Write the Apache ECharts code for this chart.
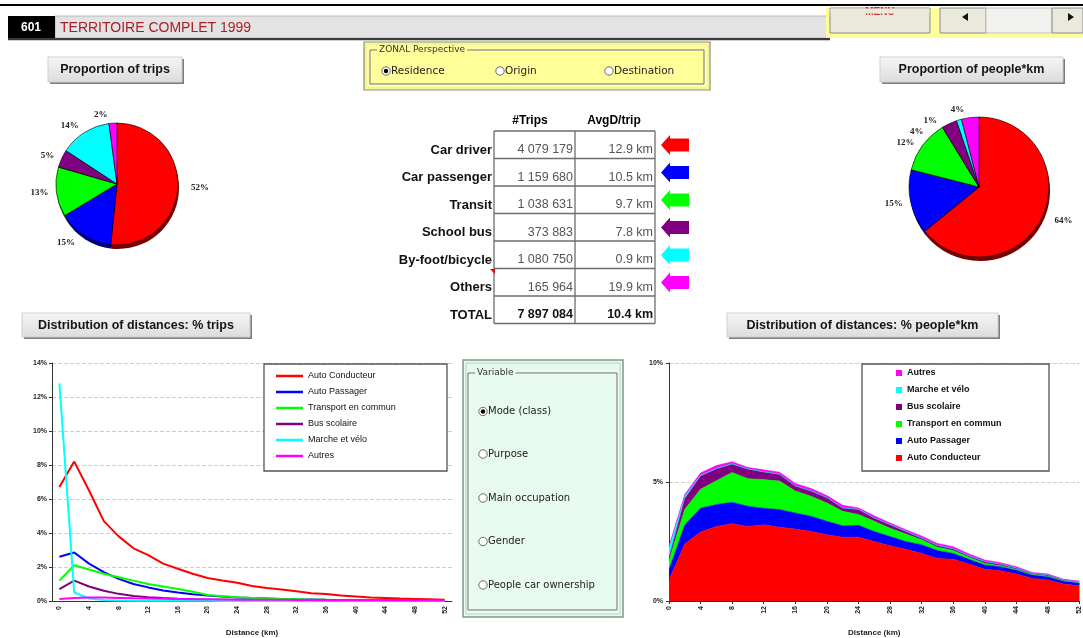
<!DOCTYPE html>
<html>
<head>
<meta charset="utf-8">
<script src="https://cdn.jsdelivr.net/npm/echarts@6/dist/echarts.min.js"></script>
<style>
  html, body { margin: 0; padding: 0; background: #fff; }
  #chart { width: 1083px; height: 638px; }
</style>
</head>
<body>
<div id="chart"></div>
<script>
// ---- data ----
const distanceKm = ['0','2','4','6','8','10','12','14','16','18','20','22','24','26','28','30','32','34','36','38','40','42','44','46','48','50','52'];

const modeNamesFr = ['Auto Conducteur', 'Auto Passager', 'Transport en commun', 'Bus scolaire', 'Marche et vélo', 'Autres'];
const modeNamesEn = ['Car driver', 'Car passenger', 'Transit', 'School bus', 'By-foot/bicycle', 'Others'];
const modeColors  = ['#ff0000', '#0000ff', '#00ff00', '#800080', '#00ffff', '#ff00ff'];
const modeShade   = ['#7a0000', '#00007a', '#007a00', '#3c003c', '#007a7a', '#7a007a'];

// trips and average distance per trip, by mode
const tripsByMode   = [4079179, 1159680, 1038631, 373883, 1080750, 165964];
const tripsTotal    = 7897084;
const avgKmByMode   = [12.9, 10.5, 9.7, 7.8, 0.9, 19.9];
const avgKmTotal    = 10.4;
// people*km by mode (millions)
const peopleKmByMode = [52.62, 12.18, 10.07, 2.92, 0.97, 3.30];

// % of trips by distance band
const tripsAutoConducteur = [6.7, 8.2, 6.5, 4.7, 3.8, 3.1, 2.7, 2.2, 1.9, 1.6, 1.35, 1.2, 1.07, 0.88, 0.76, 0.68, 0.57, 0.45, 0.41, 0.33, 0.27, 0.21, 0.18, 0.14, 0.12, 0.1, 0.08];
const tripsAutoPassager   = [2.6, 2.85, 2.2, 1.7, 1.3, 1.0, 0.8, 0.62, 0.5, 0.4, 0.32, 0.26, 0.21, 0.17, 0.15, 0.12, 0.1, 0.09, 0.07, 0.06, 0.05, 0.04, 0.04, 0.03, 0.03, 0.02, 0.02];
const tripsTransport      = [1.2, 2.1, 1.85, 1.6, 1.4, 1.2, 1.0, 0.85, 0.7, 0.55, 0.35, 0.28, 0.22, 0.18, 0.14, 0.12, 0.1, 0.08, 0.07, 0.05, 0.04, 0.03, 0.03, 0.02, 0.02, 0.01, 0.01];
const tripsBusScolaire    = [0.7, 1.2, 0.85, 0.6, 0.42, 0.3, 0.22, 0.17, 0.13, 0.1, 0.08, 0.07, 0.06, 0.05, 0.05, 0.04, 0.04, 0.04, 0.03, 0.03, 0.03, 0.03, 0.03, 0.03, 0.03, 0.02, 0.02];
const tripsMarcheVelo     = [12.8, 0.5, 0.15, 0.06, 0.03, 0.02, 0.02, 0.01, 0.01, 0.01, 0.01, 0, 0, 0, 0, 0, 0, 0, 0, 0, 0, 0, 0, 0, 0, 0, 0];
const tripsAutres         = [0.12, 0.18, 0.2, 0.2, 0.18, 0.16, 0.15, 0.13, 0.12, 0.11, 0.1, 0.09, 0.08, 0.08, 0.07, 0.07, 0.06, 0.06, 0.05, 0.05, 0.05, 0.04, 0.04, 0.04, 0.03, 0.03, 0.03];

// % of people*km by distance band
const pkmAutoConducteur = [0.88, 2.4, 2.9, 3.13, 3.25, 3.13, 3.2, 3.1, 3.02, 2.92, 2.78, 2.68, 2.68, 2.5, 2.32, 2.17, 2.0, 1.79, 1.75, 1.55, 1.33, 1.27, 1.13, 0.95, 0.88, 0.71, 0.64];
const pkmAutoPassager   = [0.42, 0.8, 1.0, 0.92, 0.9, 0.85, 0.7, 0.74, 0.68, 0.64, 0.57, 0.48, 0.5, 0.42, 0.39, 0.33, 0.36, 0.33, 0.25, 0.2, 0.18, 0.17, 0.17, 0.14, 0.14, 0.12, 0.12];
const pkmTransport      = [0.4, 0.65, 0.8, 1.0, 1.25, 1.16, 1.2, 1.2, 0.92, 0.84, 0.77, 0.61, 0.45, 0.43, 0.35, 0.31, 0.21, 0.14, 0.12, 0.09, 0.07, 0.04, 0.03, 0.03, 0.03, 0.02, 0.02];
const pkmBusScolaire    = [0.1, 0.45, 0.55, 0.5, 0.35, 0.4, 0.32, 0.28, 0.21, 0.22, 0.22, 0.14, 0.21, 0.14, 0.14, 0.11, 0.07, 0.07, 0.07, 0.05, 0.07, 0.06, 0.05, 0.04, 0.04, 0.03, 0.03];
const pkmMarcheVelo     = [0.45, 0.1, 0.03, 0.02, 0.02, 0.01, 0.01, 0.01, 0.01, 0.01, 0.01, 0.01, 0.01, 0.01, 0.01, 0.01, 0.01, 0.01, 0.01, 0.01, 0.01, 0.01, 0.01, 0.01, 0.01, 0.01, 0.01];
const pkmAutres         = [0.05, 0.08, 0.1, 0.12, 0.08, 0.06, 0.08, 0.08, 0.1, 0.1, 0.08, 0.1, 0.06, 0.08, 0.07, 0.06, 0.08, 0.08, 0.08, 0.08, 0.06, 0.06, 0.05, 0.03, 0.03, 0.02, 0.02];

const tripsSeries = [tripsAutoConducteur, tripsAutoPassager, tripsTransport, tripsBusScolaire, tripsMarcheVelo, tripsAutres];
const pkmSeries   = [pkmAutoConducteur, pkmAutoPassager, pkmTransport, pkmBusScolaire, pkmMarcheVelo, pkmAutres];

const zonalOptions    = ['Residence', 'Origin', 'Destination'];
const variableOptions = ['Mode (class)', 'Purpose', 'Main occupation', 'Gender', 'People car ownership'];

// ---- drawing helpers ----
const SANS  = 'Arial, "Liberation Sans", sans-serif';
const SERIF = '"Liberation Serif", "Times New Roman", serif';
const UI    = '"DejaVu Sans", sans-serif';

function rect(x, y, w, h, fill, stroke, lw, z) {
  return { type: 'rect', z: z || 1, silent: true, shape: { x, y, width: w, height: h },
    style: { fill: fill || 'none', stroke: stroke || null, lineWidth: lw || 1 } };
}
function txt(x, y, s, st, z) {
  return { type: 'text', x, y, z: z || 5, silent: true,
    style: Object.assign({ text: s, fill: '#000', fontSize: 11, fontFamily: SANS,
      align: 'left', verticalAlign: 'middle' }, st || {}) };
}
function button(x, y, w, h, label) {
  return [
    rect(x + 2, y + 2, w, h, '#7d7d7d', null, 1, 1),
    { type: 'rect', z: 2, silent: true, shape: { x, y, width: w, height: h },
      style: { fill: { type: 'linear', x: 0, y: 0, x2: 0, y2: 1,
        colorStops: [{ offset: 0, color: '#f6f6f6' }, { offset: 1, color: '#dcdcdc' }] },
        stroke: '#d0d0d0', lineWidth: 1 } },
    txt(x + w / 2, y + h / 2 + 0.5, label, { fontWeight: 'bold', fontSize: 12.5, align: 'center', fill: '#151515' })
  ];
}
function radio(cx, cy, label, on, size) {
  const out = [
    { type: 'circle', z: 4, silent: true, shape: { cx, cy, r: 4.2 }, style: { fill: '#fff', stroke: '#6a6a6a', lineWidth: 1 } }
  ];
  if (on) out.push({ type: 'circle', z: 5, silent: true, shape: { cx, cy, r: 2.2 }, style: { fill: '#000' } });
  out.push(txt(cx + 5, cy, label, { fontSize: size, fill: '#222', fontFamily: UI }));
  return out;
}
function groupFrame(x, y, w, h, title, bg) {
  return [
    rect(x + 1, y + 1, w, h, null, '#ffffff', 1, 3),
    rect(x, y, w, h, null, '#6e6e6e', 1, 3),
    txt(x + 7, y, title, { fontSize: 9, fill: '#333', backgroundColor: bg, padding: [0, 2], fontFamily: UI }, 4)
  ];
}
function fmtInt(n) { return String(n).replace(/\B(?=(\d{3})+(?!\d))/g, ' '); }

// ---- page furniture ----
const g = [];
g.push(rect(0, 4, 1083, 2, '#000'));
// title bar
g.push(rect(55, 16, 775, 22, '#e3e3e3', '#b8b8b8', 1));
g.push(rect(8, 16, 47, 23, '#000'));
g.push(rect(8, 38, 822, 2, '#383838'));
g.push(rect(8, 40, 822, 1, '#cfcfcf'));
g.push(txt(31, 28, '601', { fill: '#fff', fontWeight: 'bold', fontSize: 12, align: 'center' }));
g.push(txt(60, 28, 'TERRITOIRE COMPLET 1999', { fill: '#a81e28', fontSize: 14, fontFamily: SANS }));
// navigation buttons
g.push(rect(826, 8, 257, 30, '#ffff99'));
g.push(rect(830, 8, 100, 25, '#ebe8dc', '#8a8a8a', 1, 2));
g.push(txt(880, 12, 'MENU', { fill: '#cc2a2a', fontWeight: 'bold', fontSize: 10, align: 'center' }, 3));
g.push(rect(830.5, 8.5, 99, 5, '#ebe8dc', null, 1, 4));
g.push(rect(940, 8, 46, 25, '#ebe8dc', '#8a8a8a', 1, 2));
g.push({ type: 'polygon', z: 5, silent: true, shape: { points: [[962, 17], [968, 13], [968, 21]] }, style: { fill: '#111' } });
g.push(rect(986, 8, 66, 25, '#f1f1ee', '#c0c0c0', 1, 2));
g.push(rect(1052, 8, 31, 25, '#ebe8dc', '#8a8a8a', 1, 2));
g.push({ type: 'polygon', z: 5, silent: true, shape: { points: [[1074, 17], [1068, 13], [1068, 21]] }, style: { fill: '#111' } });

// section buttons
g.push(...button(48, 57, 134, 25, 'Proportion of trips'));
g.push(...button(880, 57, 183, 25, 'Proportion of people*km'));
g.push(...button(22, 313, 228, 24, 'Distribution of distances: % trips'));
g.push(...button(727, 313, 271, 24, 'Distribution of distances: % people*km'));

// zonal perspective selector
g.push(rect(364, 42, 346, 48, '#ffff99', '#8d8d6a', 1.2, 1));
g.push(rect(366, 44, 342, 44, null, '#e8e8b0', 1, 1));
g.push(...groupFrame(370, 50, 334, 34, 'ZONAL Perspective', '#ffff99'));
[386, 500, 609].forEach((cx, i) => g.push(...radio(cx, 71, zonalOptions[i], i === 0, 10.5)));

// variable selector
g.push(rect(463, 360, 160, 257, '#e7faef', '#7e9a8c', 1.5, 1));
g.push(rect(466, 363, 154, 251, null, '#b7d4c4', 1, 1));
g.push(...groupFrame(468, 373, 149, 237, 'Variable', '#e7faef'));
[411.5, 454, 498, 541.5, 585].forEach((cy, i) => g.push(...radio(483, cy, variableOptions[i], i === 0, 10)));

// summary table
const tblX = [494, 575, 655];
const tblY = [131, 158.5, 186, 213.5, 241, 268.5, 296, 323.5];
g.push(txt(530, 121, '#Trips', { fontWeight: 'bold', fontSize: 12, align: 'center' }));
g.push(txt(614, 121, 'AvgD/trip', { fontWeight: 'bold', fontSize: 12, align: 'center' }));
tblX.forEach(x => g.push({ type: 'line', z: 2, silent: true, shape: { x1: x, y1: tblY[0], x2: x, y2: tblY[7] }, style: { stroke: '#6d6d6d', lineWidth: 1.3 } }));
tblY.forEach(y => g.push({ type: 'line', z: 2, silent: true, shape: { x1: tblX[0], y1: y, x2: tblX[2], y2: y }, style: { stroke: '#6d6d6d', lineWidth: 1.3 } }));
modeNamesEn.forEach((name, i) => {
  const cy = tblY[i + 1] - 8.5;
  g.push(txt(492, cy, name, { fontWeight: 'bold', fontSize: 13, align: 'right', fill: '#111' }));
  g.push(txt(573, cy, fmtInt(tripsByMode[i]), { fontSize: 12.5, align: 'right', fill: '#555' }));
  g.push(txt(653, cy, avgKmByMode[i].toFixed(1) + ' km', { fontSize: 12.5, align: 'right', fill: '#555' }));
  const ay = tblY[i] + 14;
  g.push({ type: 'polygon', z: 3, silent: true, style: { fill: modeColors[i] },
    shape: { points: [[661, ay], [670, ay - 10], [670, ay - 6.5], [689, ay - 6.5], [689, ay + 6.5], [670, ay + 6.5], [670, ay + 10]] } });
});
g.push(txt(492, tblY[7] - 8.5, 'TOTAL', { fontWeight: 'bold', fontSize: 13, align: 'right', fill: '#111' }));
g.push(txt(573, tblY[7] - 8.5, fmtInt(tripsTotal), { fontWeight: 'bold', fontSize: 12.5, align: 'right', fill: '#111' }));
g.push(txt(653, tblY[7] - 8.5, avgKmTotal.toFixed(1) + ' km', { fontWeight: 'bold', fontSize: 12.5, align: 'right', fill: '#111' }));
g.push({ type: 'polygon', z: 6, silent: true, shape: { points: [[490, 269], [495, 269], [495, 274]] }, style: { fill: '#e00' } });

// legend frames
g.push(rect(264, 364, 183, 107, '#fff', '#555', 1.3, 1));
g.push(rect(862, 364, 187, 107, '#fff', '#555', 1.3, 1));

// ---- series ----
const series = [];
tripsSeries.forEach((d, i) => series.push({
  type: 'line', name: modeNamesFr[i], xAxisIndex: 0, yAxisIndex: 0, data: d,
  symbol: 'none', lineStyle: { width: 2, color: modeColors[i] }, itemStyle: { color: modeColors[i] }, z: 3
}));
pkmSeries.forEach((d, i) => series.push({
  type: 'line', name: modeNamesFr[i], xAxisIndex: 1, yAxisIndex: 1, data: d, stack: 'pkm',
  symbol: 'none', lineStyle: { width: 0.6, color: modeColors[i] }, itemStyle: { color: modeColors[i] },
  areaStyle: { color: modeColors[i], opacity: 1 }, z: 2
}));

function pieData(values, colors) {
  return values.map((v, i) => ({ name: modeNamesEn[i], value: v, itemStyle: { color: colors[i] } }));
}
function pieLabel(p) { return Math.round(p.percent) + '%'; }
function pies(center, r, values) {
  return [
    { type: 'pie', center: [center[0] + 1, center[1] + 4], radius: r, startAngle: 90, silent: true,
      data: pieData(values, modeShade), label: { show: false }, labelLine: { show: false }, z: 1 },
    { type: 'pie', center, radius: r, startAngle: 90, silent: true,
      data: pieData(values, modeColors),
      itemStyle: { borderColor: '#000', borderWidth: 0.6 },
      label: { position: 'outside', formatter: pieLabel, fontSize: 9, fontWeight: 'bold', fontFamily: SERIF, color: '#222' },
      labelLine: { show: false, length: 8, length2: 0 }, z: 2 }
  ];
}
series.push(...pies([117, 184], 61, tripsByMode));
series.push(...pies([979, 187], 70, peopleKmByMode));

const axisFont = { fontSize: 7, fontWeight: 'bold', color: '#222', fontFamily: SANS };

const option = {
  animation: false,
  backgroundColor: '#fff',
  grid: [
    { left: 52, top: 363, width: 400, height: 239 },
    { left: 669, top: 363, width: 411, height: 238 }
  ],
  xAxis: [
    { gridIndex: 0, type: 'category', data: distanceKm, boundaryGap: true,
      axisLine: { lineStyle: { color: '#333' } },
      axisTick: { alignWithLabel: true, interval: 1, length: 3, lineStyle: { color: '#333' } },
      axisLabel: Object.assign({ interval: 1, rotate: 90, margin: 5 }, axisFont),
      name: 'Distance (km)', nameLocation: 'middle', nameGap: 28,
      nameTextStyle: { fontSize: 8, fontWeight: 'bold', color: '#222' } },
    { gridIndex: 1, type: 'category', data: distanceKm, boundaryGap: false,
      axisLine: { lineStyle: { color: '#333' } },
      axisTick: { interval: 1, length: 3, lineStyle: { color: '#333' } },
      axisLabel: Object.assign({ interval: 1, rotate: 90, margin: 5 }, axisFont),
      name: 'Distance (km)', nameLocation: 'middle', nameGap: 28,
      nameTextStyle: { fontSize: 8, fontWeight: 'bold', color: '#222' } }
  ],
  yAxis: [
    { gridIndex: 0, type: 'value', min: 0, max: 14, interval: 2,
      axisLine: { show: true, lineStyle: { color: '#333' } },
      axisTick: { show: true, length: 3, lineStyle: { color: '#333' } },
      axisLabel: Object.assign({ formatter: '{value}%', margin: 5 }, axisFont),
      splitLine: { lineStyle: { color: '#cfcfcf', type: 'dashed' } } },
    { gridIndex: 1, type: 'value', min: 0, max: 10, interval: 5,
      axisLine: { show: true, lineStyle: { color: '#333' } },
      axisTick: { show: true, length: 3, lineStyle: { color: '#333' } },
      axisLabel: Object.assign({ formatter: '{value}%', margin: 6 }, axisFont),
      splitLine: { lineStyle: { color: '#cfcfcf', type: 'dashed' } } }
  ],
  legend: [
    { data: modeNamesFr, left: 276, top: 370, orient: 'vertical', padding: 0,
      icon: 'rect', itemWidth: 27, itemHeight: 2.5, itemGap: 4, selectedMode: false,
      textStyle: { fontSize: 9, color: '#111', lineHeight: 12, fontFamily: SANS } },
    { data: modeNamesFr.slice().reverse(), left: 896, top: 367, orient: 'vertical', padding: 0,
      icon: 'rect', itemWidth: 6, itemHeight: 6, itemGap: 5, selectedMode: false,
      textStyle: { fontSize: 9, fontWeight: 'bold', color: '#111', lineHeight: 12, fontFamily: SANS } }
  ],
  graphic: { elements: g },
  series
};

const chart = echarts.init(document.getElementById('chart'), null, { renderer: 'canvas' });
chart.setOption(option);
</script>
</body>
</html>
